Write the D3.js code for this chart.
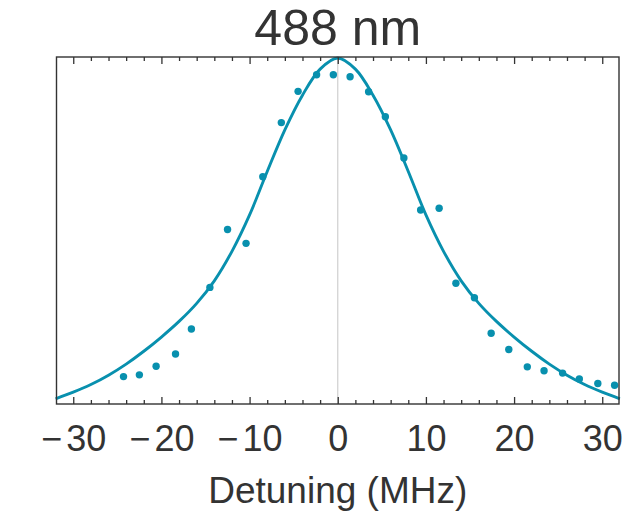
<!DOCTYPE html>
<html lang="en">
  <head>
    <meta charset="utf-8">
    <script src="https://cdn.jsdelivr.net/npm/d3@7"></script>
    <style>
      body {
        margin: 0;
        background: #fff;
      }
      text {
        font-family: 'Liberation Sans', Arial, sans-serif;
        fill: #333;
      }
    </style>
  </head>
  <body>
    <svg></svg>
  </body>
  <script>

    // measured points (MHz, normalized signal)
    const detuning = [-24.3, -22.5, -20.6, -18.4, -16.6, -14.5, -12.5, -10.4, -8.5, -6.4,
      -4.5, -2.4, -0.5, 1.4, 3.5, 5.4, 7.5, 9.4, 11.5, 13.4,
      15.5, 17.4, 19.4, 21.5, 23.4, 25.5, 27.4, 29.5, 31.4];
    const signal = [0.079, 0.084, 0.109, 0.144, 0.216, 0.336, 0.503, 0.463, 0.655, 0.811,
      0.901, 0.949, 0.949, 0.943, 0.900, 0.828, 0.709, 0.559, 0.564, 0.348,
      0.306, 0.204, 0.157, 0.107, 0.096, 0.089, 0.072, 0.059, 0.054];

    // fit curve, every 2 MHz
    const fitX = [-32, -30, -28, -26, -24, -22, -20, -18, -16, -14, -12, -10, -8, -6, -4, -2,
      0, 2, 4, 6, 8, 10, 12, 14, 16, 18, 20, 22, 24, 26, 28, 30, 32];
    const fitY = [0.015, 0.034, 0.056, 0.083, 0.115, 0.152, 0.193, 0.238, 0.29, 0.355, 0.44, 0.545, 0.67, 0.79, 0.89, 0.965,
      0.997, 0.965, 0.89, 0.79, 0.67, 0.545, 0.44, 0.355, 0.29, 0.238, 0.193, 0.152, 0.115, 0.083, 0.056, 0.034, 0.015];

    const majorTicks = [-30, -20, -10, 0, 10, 20, 30];
    const minorTicks = d3.range(-30, 31, 2).filter(t => t % 10 !== 0);

    const width = 625;
    const height = 515;
    const margin = { top: 57, right: 6, bottom: 111, left: 56.5 };
    const teal = '#0890ae';

    const svg = d3.select('svg')
        .attr('width', width)
        .attr('height', height);

    const x = d3.scaleLinear()
        .domain([-31.9, 31.9])
        .range([margin.left, width - margin.right]);
    const y = d3.scaleLinear()
        .domain([0, 1])
        .range([height - margin.bottom, margin.top]);

    // zero line
    svg.append('line')
        .attr('x1', x(0)).attr('x2', x(0))
        .attr('y1', y(0)).attr('y2', y(1))
        .attr('stroke', '#cfcfcf')
        .attr('stroke-width', 1.2);

    // fit
    const line = d3.line()
        .x((d, i) => x(fitX[i]))
        .y(d => y(d))
        .curve(d3.curveCatmullRom);

    svg.append('path')
        .datum(fitY)
        .attr('d', line)
        .attr('fill', 'none')
        .attr('stroke', teal)
        .attr('stroke-width', 2.9);

    // data points
    svg.selectAll('circle')
        .data(detuning)
      .enter().append('circle')
        .attr('cx', d => x(d))
        .attr('cy', (d, i) => y(signal[i]))
        .attr('r', 3.7)
        .attr('fill', teal);

    // axes
    function styleAxis(g) {
      g.select('.domain').remove();
      g.selectAll('line').attr('stroke', '#333').attr('stroke-width', 1.3);
    }

    svg.append('g')
        .attr('transform', 'translate(0,' + y(0) + ')')
        .call(d3.axisBottom(x).tickValues(majorTicks).tickSize(-7).tickPadding(21))
        .call(styleAxis)
        .selectAll('text')
        .attr('font-size', 36)
        .attr('fill', '#333')
        .each(function(d) {
          // wider gap after the minus sign, like the original
          if (d < 0) {
            const t = d3.select(this).text('\u2212');
            t.append('tspan').attr('dx', 4).text(Math.abs(d));
          }
        });

    svg.append('g')
        .attr('transform', 'translate(0,' + y(0) + ')')
        .call(d3.axisBottom(x).tickValues(minorTicks).tickSize(-4).tickFormat(''))
        .call(styleAxis);

    svg.append('g')
        .attr('transform', 'translate(0,' + y(1) + ')')
        .call(d3.axisTop(x).tickValues(majorTicks).tickSize(-7).tickFormat(''))
        .call(styleAxis);

    svg.append('g')
        .attr('transform', 'translate(0,' + y(1) + ')')
        .call(d3.axisTop(x).tickValues(minorTicks).tickSize(-4).tickFormat(''))
        .call(styleAxis);

    // frame
    svg.append('rect')
        .attr('x', x.range()[0])
        .attr('y', y(1))
        .attr('width', x.range()[1] - x.range()[0])
        .attr('height', y(0) - y(1))
        .attr('fill', 'none')
        .attr('stroke', '#333')
        .attr('stroke-width', 1.4);

    // labels
    svg.append('text')
        .attr('x', x(0))
        .attr('y', 45)
        .attr('text-anchor', 'middle')
        .attr('font-size', 50)
        .text('488 nm');

    svg.append('text')
        .attr('x', x(0))
        .attr('y', 503)
        .attr('text-anchor', 'middle')
        .attr('font-size', 37)
        .text('Detuning (MHz)');
  </script>
</html>
